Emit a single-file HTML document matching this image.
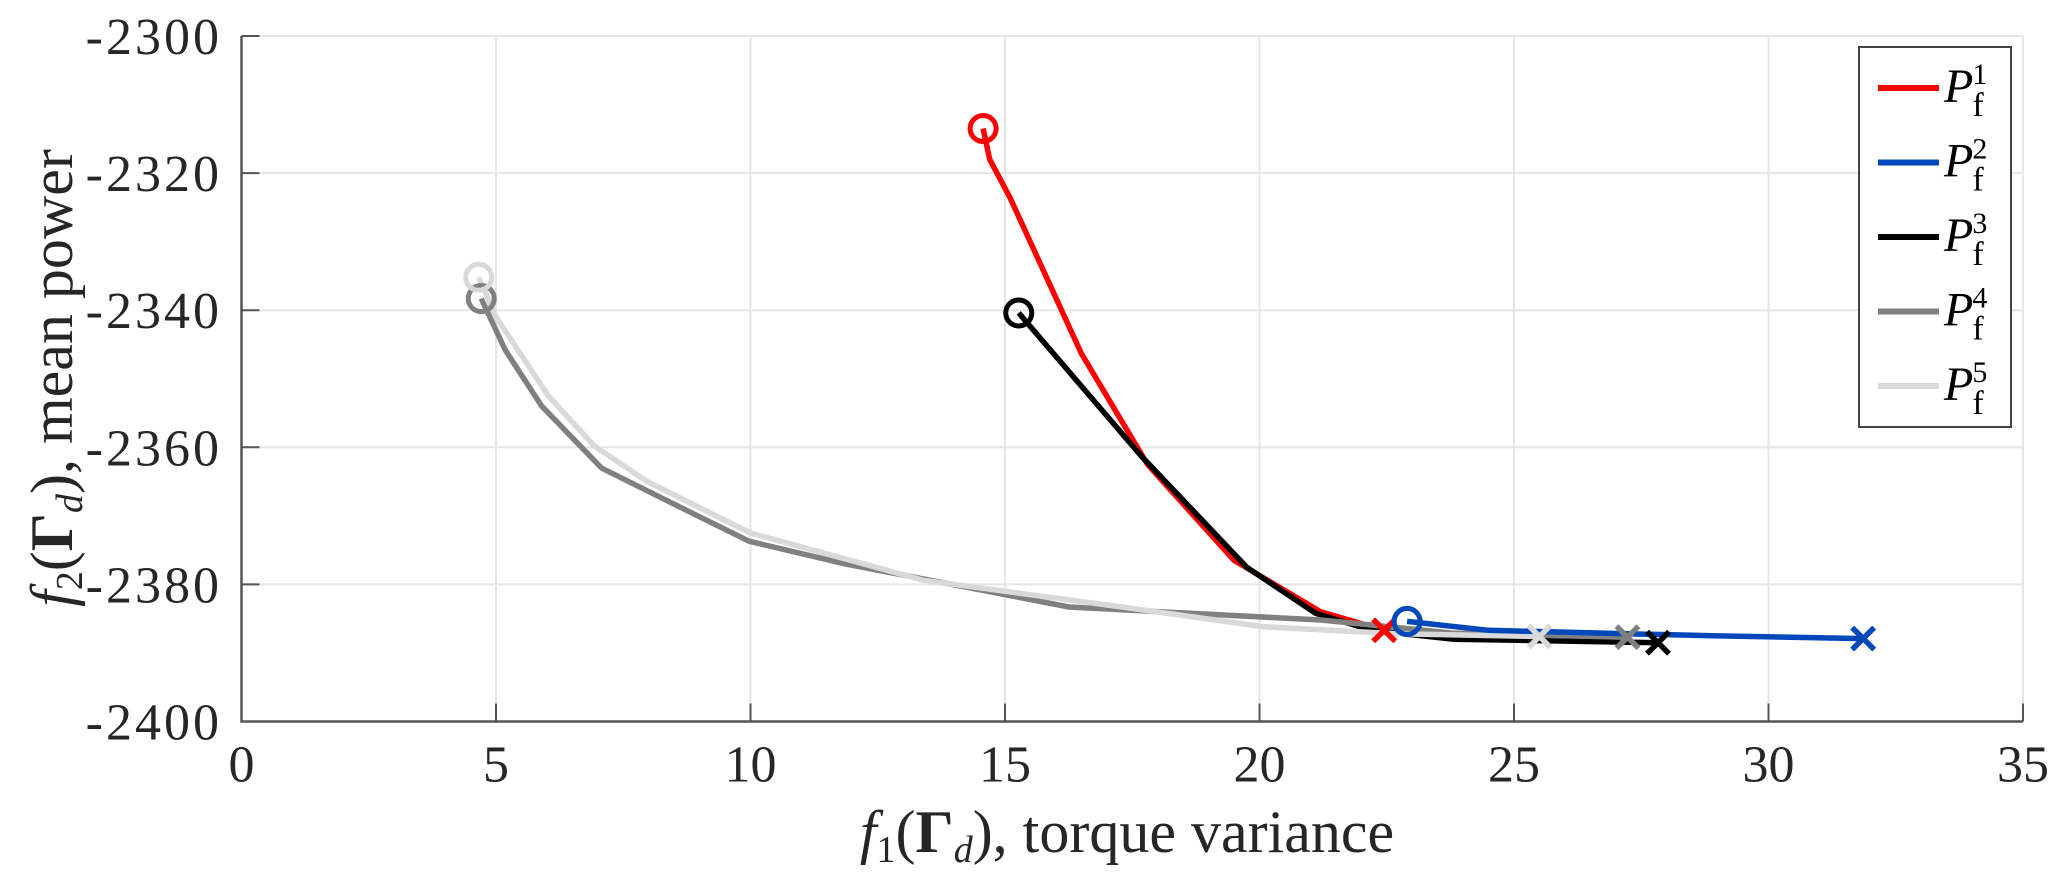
<!DOCTYPE html>
<html><head><meta charset="utf-8"><style>
html,body{margin:0;padding:0;background:#fff;}
svg{display:block;font-family:"Liberation Serif","DejaVu Serif",serif;}
</style></head><body>
<svg id="chart" width="2067" height="892" viewBox="0 0 2067 892" xmlns="http://www.w3.org/2000/svg">
<g id="grid"></g>
<g id="axes"></g>
<g id="series"></g>
<g id="markers"></g>
<text x="1127" y="852" font-size="60" text-anchor="middle" fill="#262626"><tspan font-style="italic">f</tspan><tspan font-size="38" dy="10">1</tspan><tspan dy="-10">(</tspan><tspan font-weight="bold">Γ</tspan><tspan font-style="italic" font-size="38" dy="10">d</tspan><tspan dy="-10">), torque variance</tspan></text>
<text transform="translate(72,378) rotate(-90)" font-size="60" text-anchor="middle" fill="#262626"><tspan font-style="italic">f</tspan><tspan font-size="38" dy="10">2</tspan><tspan dy="-10">(</tspan><tspan font-weight="bold">Γ</tspan><tspan font-style="italic" font-size="38" dy="10">d</tspan><tspan dy="-10">), mean power</tspan></text>
<g id="legend"></g>
</svg>
<script>
const NS="http://www.w3.org/2000/svg";
const xTicks=[0,5,10,15,20,25,30,35];
const yTicks=[-2300,-2320,-2340,-2360,-2380,-2400];
const seriesNames=["1","2","3","4","5"];
const seriesColors=["#ff0000","#0047bb","#000000","#808080","#d9d9d9"];
const s1x=[14.57,14.7,15.1,16.5,17.8,19.5,21.2,22.45];
const s1y=[-2313.5,-2318,-2323.6,-2346.3,-2362.5,-2376.5,-2384,-2386.7];
const s2x=[22.9,24.5,28.9,31.86];
const s2y=[-2385.4,-2386.7,-2387.5,-2387.9];
const s3x=[15.27,17.68,19.75,21.1,22.2,23.8,27.83];
const s3y=[-2340.4,-2361.3,-2377.5,-2384.2,-2386.7,-2388,-2388.5];
const s4x=[4.71,5.18,5.9,7.07,8.5,9.97,11.85,16.26,21.2,23.8,27.23];
const s4y=[-2338.3,-2345.8,-2354,-2363,-2368.3,-2373.7,-2377,-2383.3,-2385.2,-2387.1,-2387.7];
const s5x=[4.66,5.0,6.03,6.93,7.97,10.0,13.4,17.3,20.1,22.7,25.5];
const s5y=[-2335.2,-2341,-2352.5,-2359.8,-2365,-2372.5,-2379.4,-2383.3,-2386.2,-2387.2,-2387.6];

const X0=241.5,X1=2023,Y0=36,Y1=721.5;
const xs=v=>X0+(v-0)/(35-0)*(X1-X0);
const ys=v=>Y0+(-2300-v)/100*(Y1-Y0);
function mk(t,a,p){const e=document.createElementNS(NS,t);for(const k in a)e.setAttribute(k,a[k]);p.appendChild(e);return e;}
const grid=document.getElementById('grid'),axes=document.getElementById('axes'),ser=document.getElementById('series'),mks=document.getElementById('markers'),leg=document.getElementById('legend');
xTicks.forEach(t=>{
  const l=mk('line',{x1:xs(t),x2:xs(t),y1:Y0,y2:Y1,stroke:'#e6e6e6','stroke-width':2},grid);
  
  
  const tk=mk('line',{x1:xs(t),x2:xs(t),y1:Y1,y2:Y1-18,stroke:'#555','stroke-width':2},axes);
  
  
  const tx=mk('text',{x:xs(t),y:Y1+60,'font-size':52,'text-anchor':'middle',fill:'#262626'},axes);
  tx.textContent=t;
  
  
});
yTicks.forEach(t=>{
  const l=mk('line',{x1:X0,x2:X1,y1:ys(t),y2:ys(t),stroke:'#e6e6e6','stroke-width':2},grid);
  
  
  const tk=mk('line',{x1:X0,x2:X0+18,y1:ys(t),y2:ys(t),stroke:'#555','stroke-width':2},axes);
  
  
  const tx=mk('text',{x:222,y:ys(t)+18,'font-size':52,'text-anchor':'end','letter-spacing':'3',fill:'#262626'},axes);
  tx.textContent=String(t);
  
  
});
const ax=mk('path',{d:`M${X0},${Y0}V${Y1}H${X1}`,fill:'none',stroke:'#555','stroke-width':2.5},axes);



const allX=[s1x,s2x,s3x,s4x,s5x],allY=[s1y,s2y,s3y,s4y,s5y];
[0,2,3,4,1].forEach(i=>{
  const xa=allX[i],ya=allY[i],c=seriesColors[i];
  const d=xa.map((v,k)=>(k?'L':'M')+xs(v).toFixed(1)+','+ys(ya[k]).toFixed(1)).join('');
  const p=mk('path',{d:d,fill:'none',stroke:c,'stroke-width':5.5,'stroke-linejoin':'round'},ser);
  
  
});
[0,1,2,3,4].forEach(i=>{
  const xa=allX[i],ya=allY[i],c=seriesColors[i];
  const cx=xs(xa[0]),cy=ys(ya[0]);
  const ci=mk('circle',{cx:cx,cy:cy,r:13,fill:'none',stroke:c,'stroke-width':5},mks);
  
  
  const ex=xs(xa[xa.length-1]),ey=ys(ya[ya.length-1]),r=11;
  const xm=mk('path',{d:`M${ex-r},${ey-r}L${ex+r},${ey+r}M${ex-r},${ey+r}L${ex+r},${ey-r}`,stroke:c,'stroke-width':5.5},mks);
  
  
});

const box=mk('rect',{x:1859,y:47,width:152,height:380,fill:'#fff',stroke:'#444','stroke-width':2},leg);


seriesNames.forEach((n,i)=>{
  const y=88+i*74.5;
  const g=mk('g',{},leg);
  
  
  mk('line',{x1:1878,x2:1939,y1:y,y2:y,stroke:seriesColors[i],'stroke-width':6},g);
  const t=mk('text',{x:1944,y:y+14,'font-size':48,fill:'#000'},g);
  t.innerHTML='<tspan font-style="italic">P</tspan><tspan font-size="30" dx="-1" dy="-18">'+n+'</tspan><tspan font-size="34" dx="-15" dy="32">f</tspan>';
});
</script>
</body></html>
